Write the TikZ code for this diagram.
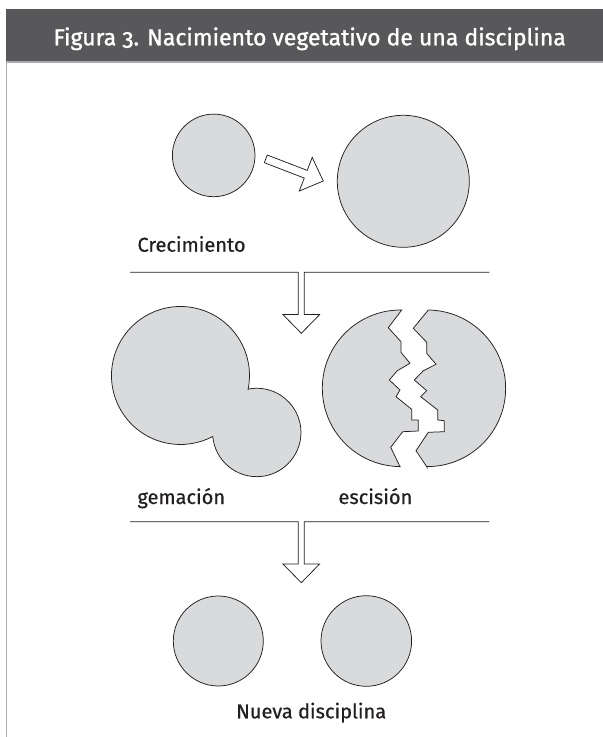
\documentclass[tikz,border=0pt]{standalone}
\usepackage{fontspec}
\setmainfont{Fira Sans}[FakeBold=0.6,AutoFakeBold=0.6]
\newfontfamily\bodyfont[FakeBold=0.6]{Fira Sans}
\newfontfamily\titlefont[Numbers=OldStyle,FakeBold=1.2]{Fira Sans}
\definecolor{discgray}{HTML}{D9DADB}
\definecolor{ink}{HTML}{231F20}
\definecolor{headgray}{HTML}{58585A}
\definecolor{bordergray}{HTML}{A7A9AC}
\begin{document}
\begin{tikzpicture}[x=1pt,y=-1pt,
  blob/.style={fill=discgray, draw=ink, line width=0.75pt, line join=miter},
  disc/.style={circle, blob, inner sep=0pt},
  lbl/.style={font=\bodyfont\fontsize{20}{24}\selectfont, text=ink, inner sep=0pt, anchor=base west},
  hollow/.style={draw=ink, fill=white, line width=0.75pt, line join=miter},
  rule/.style={draw=ink, line width=0.75pt, line join=miter, fill=white},
  titletext/.style={font=\titlefont\fontsize{23}{27}\selectfont, text=white, inner sep=0pt, anchor=base}]
\useasboundingbox (0,0) rectangle (603,737);
\fill[white] (0,0) rectangle (603,737);
% header
\fill[headgray] (6,9) rectangle (603,61.5);
\draw[bordergray, line width=1.2pt] (6,62) -- (603,62);
\draw[bordergray, line width=1.3pt] (6.7,62) -- (6.7,737);
\node[titletext] (title) at (309.7,45.3) {Figura 3. Nacimiento vegetativo de una disciplina};

% Crecimiento
\node[disc, minimum size=82.6pt] (c1) at (213.7,155.4) {};
\node[disc, minimum size=132pt] (c2) at (403.3,181.3) {};
\draw[hollow, shift={(265.8,158.85)}, rotate=-21.07]
  (0,-4.1) -- (42.8,-4.1) -- (42.8,-18) -- (61.6,0) -- (42.8,18) -- (42.8,4.1) -- (0,4.1) -- cycle;
\node[lbl] (crec) at (137.3,251.7) {Crecimiento};

% first separator with down arrow
\draw[rule] (130,272.3) -- (298.3,272.3) -- (298.3,314.6) -- (283,314.6) -- (301.3,333.3)
  -- (319.6,314.6) -- (304.3,314.6) -- (304.3,272.3) -- (489.3,272.3);

% gemacion
\draw[blob] (248.1,389.2) arc[start angle=11.46, end angle=-297.9, radius=69]
  arc[start angle=174.8, end angle=-101.4, radius=44.2] -- cycle;
\node[lbl] (gem) at (137.3,504) {gemación};

% escision
\draw[blob] (401.7,310) arc[start angle=-89.2, end angle=-269.6, radius=78.3]
  -- (400,466.7) -- (390.7,447.3) -- (402.7,431.7) -- (418.3,431) -- (418.3,420)
  -- (411.7,420) -- (411.7,409.3) -- (396,396.7) -- (400,390) -- (389.3,380)
  -- (397.3,370.7) -- (410,363.3) -- (401,352.3) -- (401,341.7) -- (388.3,327.7) -- cycle;
\draw[blob] (428.3,310) arc[start angle=-89.3, end angle=90.5, radius=78.3]
  -- (426.7,466.7) -- (416,450.7) -- (428.3,432.3) -- (444.3,431.7) -- (444.3,420.7)
  -- (437.7,420) -- (437.7,410) -- (420.7,396.7) -- (426.7,390.7) -- (414.3,380)
  -- (423.3,370.7) -- (436,364.3) -- (426.7,353.3) -- (426.7,342.3) -- (413.3,328.3) -- cycle;
\node[lbl] (esc) at (338.3,504) {escisión};

% second separator with down arrow
\draw[rule] (130,521.7) -- (298.3,521.7) -- (298.3,564) -- (283,564) -- (301.3,582.7)
  -- (319.6,564) -- (304.3,564) -- (304.3,521.7) -- (489.3,521.7);

% Nueva disciplina
\node[disc, minimum size=90pt] (n1) at (218.3,641) {};
\node[disc, minimum size=90.6pt] (n2) at (366.3,641) {};
\node[lbl, anchor=base] (nueva) at (311.2,718.3) {Nueva disciplina};
\end{tikzpicture}
\end{document}
